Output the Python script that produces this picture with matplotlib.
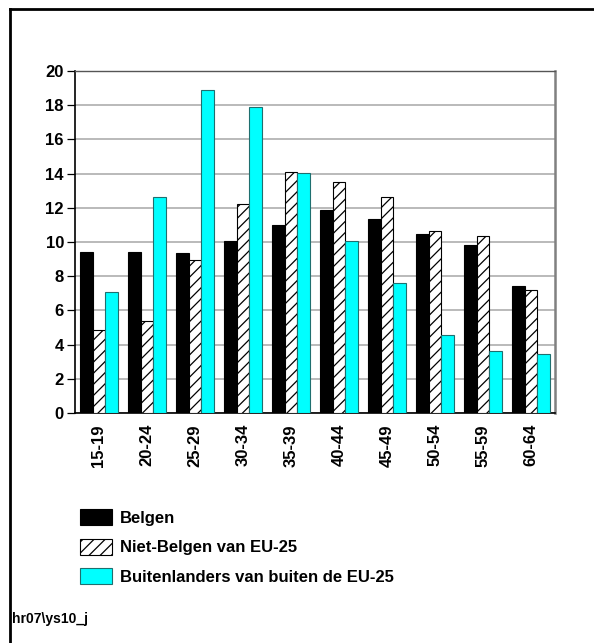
import matplotlib
matplotlib.use("Agg")
import matplotlib.pyplot as plt
from matplotlib.patches import Patch
from matplotlib.lines import Line2D
import numpy as np

plt.rcParams['font.family'] = ['Liberation Sans', 'DejaVu Sans']
plt.rcParams['font.weight'] = 'bold'
plt.rcParams['hatch.linewidth'] = 0.9

categories = ["15-19", "20-24", "25-29", "30-34", "35-39",
              "40-44", "45-49", "50-54", "55-59", "60-64"]
belgen = [9.42, 9.42, 9.37, 10.03, 10.99, 11.86, 11.36, 10.46, 9.85, 7.40]
niet_belgen_eu25 = [4.88, 5.39, 8.92, 12.25, 14.07, 13.52, 12.66, 10.67, 10.38, 7.22]
buiten_eu25 = [7.08, 12.66, 18.87, 17.87, 14.01, 10.07, 7.59, 4.59, 3.65, 3.47]
series_labels = ["Belgen", "Niet-Belgen van EU-25", "Buitenlanders van buiten de EU-25"]
yticks = [0, 2, 4, 6, 8, 10, 12, 14, 16, 18, 20]
footer = "hr07\\ys10_j"

W, H = 594, 643
fig = plt.figure(figsize=(W / 100, H / 100), dpi=100)
ax = fig.add_axes([75 / W, 1 - 413 / H, 480 / W, 342 / H])

x = np.arange(len(categories))
bw = 0.26
ax.bar(x - bw, belgen, bw, color="black", edgecolor="black", linewidth=0.8, zorder=3)
ax.bar(x, niet_belgen_eu25, bw, color="white", edgecolor="black", hatch="///",
       linewidth=0.8, zorder=3)
ax.bar(x + bw, buiten_eu25, bw, color="#00FFFF", edgecolor="#1f6f6f", linewidth=0.8, zorder=3)

ax.set_xlim(-0.5, len(categories) - 0.5)
ax.set_ylim(0, 20)
ax.set_yticks(yticks)
ax.set_yticklabels([str(v) for v in yticks], fontsize=12, fontweight="bold")
ax.set_xticks(x)
ax.set_xticklabels(categories, rotation=90, fontsize=12, fontweight="bold")
ax.tick_params(axis="x", length=0, pad=8)
ax.tick_params(axis="y", length=6, width=0.9, direction="out", pad=2)
ax.yaxis.grid(True, color="#b4b4b4", linewidth=1.3, zorder=0)
ax.set_axisbelow(True)

for side in ("left", "bottom"):
    ax.spines[side].set_color("black")
    ax.spines[side].set_linewidth(1.2)
ax.spines["top"].set_color("#555555")
ax.spines["top"].set_linewidth(1.0)
ax.spines["right"].set_color("#808080")
ax.spines["right"].set_linewidth(1.8)

handles = [
    Patch(facecolor="black", edgecolor="black", linewidth=0.8),
    Patch(facecolor="white", edgecolor="black", hatch="///", linewidth=0.8),
    Patch(facecolor="#00FFFF", edgecolor="#1f6f6f", linewidth=0.8),
]
fig.legend(handles, series_labels, loc="upper left",
           bbox_to_anchor=(75 / W, 1 - 504 / H), frameon=False,
           prop={"size": 12, "weight": "bold"},
           handlelength=1.9, handleheight=1.1, labelspacing=0.78,
           handletextpad=0.5, borderaxespad=0, borderpad=0.3)

fig.text(12 / W, 1 - 619 / H, footer, fontsize=10, fontweight="bold",
         va="center", ha="left")

# frame lines along the top and left edges of the page
fig.add_artist(Line2D([10 / W, 10 / W], [0, 1 - 9 / H], transform=fig.transFigure,
                      color="black", linewidth=2.0))
fig.add_artist(Line2D([10 / W, 1], [1 - 9 / H, 1 - 9 / H], transform=fig.transFigure,
                      color="black", linewidth=2.0))

fig.savefig("out.png", dpi=100)
